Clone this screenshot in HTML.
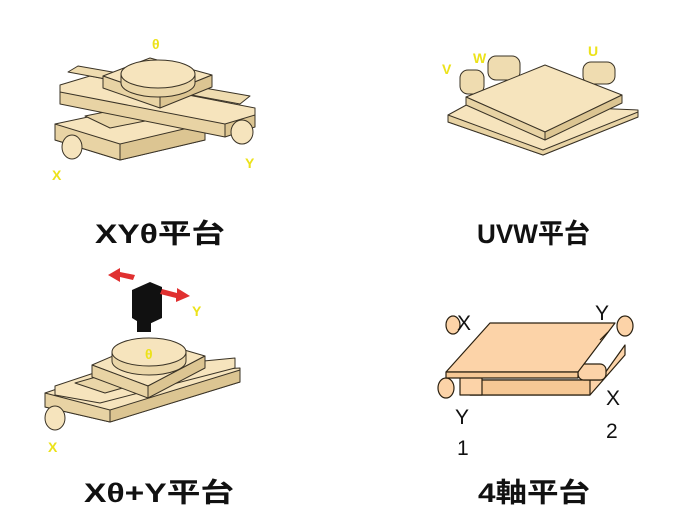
<!DOCTYPE html>
<html><head><meta charset="utf-8"><style>
html,body{margin:0;padding:0;background:#fff;width:689px;height:518px;overflow:hidden}
svg{display:block}
.t{font-family:"Liberation Sans","Noto Sans CJK JP",sans-serif;font-weight:bold;font-size:27px;fill:#111}
.y{font-family:"Liberation Sans",sans-serif;font-size:14px;font-weight:bold;fill:#ece21a}
.b{font-family:"Liberation Sans",sans-serif;font-size:21px;fill:#111}
</style></head><body>
<svg width="689" height="518" viewBox="0 0 689 518" xmlns="http://www.w3.org/2000/svg">
<g stroke="#3a3326" stroke-width="1" stroke-linejoin="round" fill="#f6e4bd">
<!-- XY theta -->
<polygon points="55,124 140,106 205,124 205,140 120,160 55,140"/>
<polygon points="55,124 120,144 120,160 55,140" fill="#e8d3a4"/>
<polygon points="120,144 205,124 205,140 120,160" fill="#dcc592"/>
<polygon points="85,116 135,106 160,118 110,128" fill="#ead6a8"/>
<ellipse cx="72" cy="147" rx="10" ry="12"/>
<polygon points="60,85 90,76 255,108 255,122 225,130 60,99"/>
<polygon points="60,92 225,124 225,137 60,104" fill="#e8d3a4"/>
<polygon points="225,124 255,115 255,127 225,137" fill="#dcc592"/>
<polygon points="68,72 78,66 250,96 240,104" fill="#efdcb0"/>
<ellipse cx="242" cy="132" rx="11" ry="12"/>
<polygon points="103,76 150,58 212,75 160,96"/>
<polygon points="103,76 160,96 160,108 103,88" fill="#e8d3a4"/>
<polygon points="160,96 212,75 212,87 160,108" fill="#dcc592"/>
<path d="M121,74 v9 a37,14 0 0 0 74,0 v-9" fill="#ead6a8"/>
<ellipse cx="158" cy="74" rx="37" ry="14"/>
<!-- UVW -->
<g fill="#efdcb0"><rect x="460" y="70" width="24" height="24" rx="8"/><rect x="488" y="56" width="32" height="24" rx="8"/><rect x="583" y="62" width="32" height="22" rx="8"/></g>
<polygon points="448,115 470,103 638,110 638,117 543,155 448,122"/>
<polygon points="448,115 543,150 638,112 638,117 543,155 448,122" fill="#e8d3a4"/>
<polygon points="466,97 545,65 622,95 545,132"/>
<polygon points="466,97 545,132 545,140 466,105" fill="#e8d3a4"/>
<polygon points="545,132 622,95 622,103 545,140" fill="#dcc592"/>
<!-- X theta + Y -->
<polygon points="45,393 95,376 240,368 240,382 110,422 45,407"/>
<polygon points="45,393 110,410 110,422 45,407" fill="#e8d3a4"/>
<polygon points="110,410 240,370 240,382 110,422" fill="#dcc592"/>
<polygon points="55,386 100,371 235,358 235,368 100,403 55,395"/>
<polygon points="75,383 110,373 140,383 105,393" fill="#ead6a8"/>
<ellipse cx="55" cy="418" rx="10" ry="12"/>
<polygon points="92,365 150,340 205,356 148,386"/>
<polygon points="92,365 148,386 148,398 92,377" fill="#e8d3a4"/>
<polygon points="148,386 205,356 205,368 148,398" fill="#dcc592"/>
<path d="M112,352 v9 a37,14 0 0 0 74,0 v-9" fill="#ead6a8"/>
<ellipse cx="149" cy="352" rx="37" ry="14"/>
</g>
<!-- camera -->
<polygon points="132,290 150,282 162,287 162,318 145,326 132,318" fill="#111"/>
<rect x="137" y="320" width="14" height="12" fill="#111"/>
<polygon points="108,275 120,268 120,272 135,275 133,280 120,277 120,282" fill="#e03030"/>
<polygon points="190,296 176,302 176,298 160,294 162,289 177,293 177,288" fill="#e03030"/>
<!-- 4 axis -->
<g stroke="#2a2010" stroke-width="1.2" stroke-linejoin="round" fill="#fcd3a8">
<ellipse cx="453" cy="325" rx="7" ry="9"/>
<ellipse cx="625" cy="326" rx="8" ry="10"/>
<polygon points="470,380 600,380 625,345 625,355 590,395 470,395"/>
<polygon points="470,380 590,380 590,395 470,395" fill="#f6c895"/>
<rect x="578" y="364" width="28" height="16" rx="6"/>
<rect x="460" y="377" width="22" height="18"/>
<ellipse cx="446" cy="388" rx="8" ry="10"/>
<polygon points="490,323 615,323 578,372 446,372"/>
<polygon points="446,372 578,372 578,378 446,378" fill="#f6c895"/>
<line x1="600" y1="340" x2="608" y2="332"/>
</g>
<!-- labels -->
<text class="y" x="152" y="49">θ</text>
<text class="y" x="52" y="180">X</text>
<text class="y" x="245" y="168">Y</text>
<text class="y" x="442" y="74">V</text>
<text class="y" x="473" y="63">W</text>
<text class="y" x="588" y="56">U</text>
<text class="y" x="192" y="316">Y</text>
<text class="y" x="145" y="359">θ</text>
<text class="y" x="48" y="452">X</text>
<text class="b" x="457" y="330">X</text>
<text class="b" x="595" y="320">Y</text>
<text class="b" x="455" y="424">Y</text>
<text class="b" x="457" y="455">1</text>
<text class="b" x="606" y="405">X</text>
<text class="b" x="606" y="438">2</text>
<text class="t" x="95" y="243" textLength="130" lengthAdjust="spacingAndGlyphs">XYθ平台</text>
<text class="t" x="477" y="243" textLength="113" lengthAdjust="spacingAndGlyphs">UVW平台</text>
<text class="t" x="84" y="502" textLength="150" lengthAdjust="spacingAndGlyphs">Xθ+Y平台</text>
<text class="t" x="478" y="502" textLength="112" lengthAdjust="spacingAndGlyphs">4軸平台</text>
</svg>
</body></html>
